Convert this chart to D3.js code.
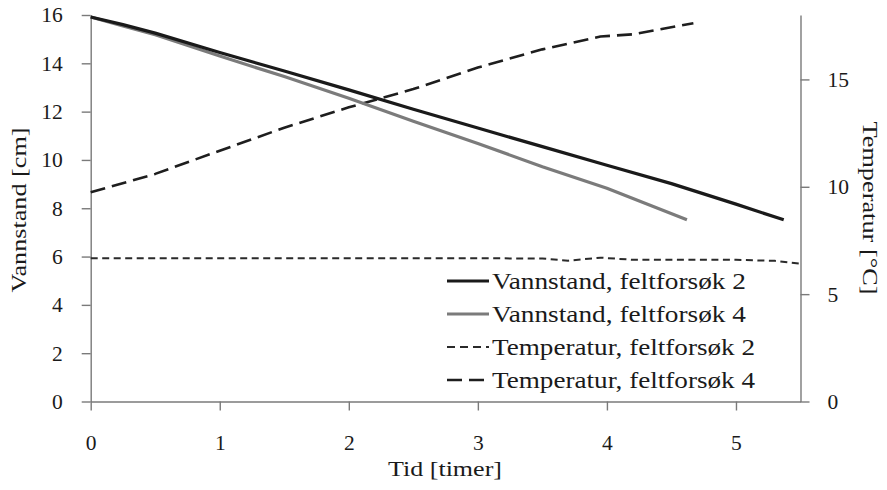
<!DOCTYPE html>
<html><head><meta charset="utf-8">
<script src="https://cdn.jsdelivr.net/npm/d3@7"></script>
</head>
<body style="margin:0"><svg id="c" width="887" height="490" font-family="Liberation Serif, Times New Roman, serif"></svg>
<script>
// ---- data ----
const vann2T = [0, 0.25, 0.5, 1, 1.5, 2, 2.5, 3, 3.5, 4, 4.5, 5, 5.37];
const vann2V = [15.92, 15.6, 15.25, 14.45, 13.68, 12.9, 12.1, 11.32, 10.55, 9.78, 9.02, 8.17, 7.52];
const vann4T = [0, 0.25, 0.5, 1, 1.5, 2, 2.5, 3, 3.5, 4, 4.3, 4.62];
const vann4V = [15.92, 15.55, 15.18, 14.3, 13.45, 12.55, 11.6, 10.68, 9.72, 8.83, 8.2, 7.52];
const temp2T = [0, 1, 2, 3, 3.5, 3.7, 3.95, 4.2, 4.6, 5.0, 5.3, 5.5];
const temp2V = [6.67, 6.67, 6.67, 6.67, 6.66, 6.56, 6.7, 6.6, 6.6, 6.6, 6.55, 6.42];
const temp4T = [0, 0.5, 1, 1.5, 2, 2.5, 3, 3.5, 3.95, 4.2, 4.67];
const temp4V = [9.74, 10.6, 11.68, 12.75, 13.7, 14.55, 15.55, 16.4, 17.0, 17.1, 17.62];
const xTicks = [0, 1, 2, 3, 4, 5];
const yLeftTicks = [0, 2, 4, 6, 8, 10, 12, 14, 16];
const yRightTicks = [0, 5, 10, 15];
const legendLabels = ["Vannstand, feltforsøk 2", "Vannstand, feltforsøk 4", "Temperatur, feltforsøk 2", "Temperatur, feltforsøk 4"];

const FONT = "Liberation Serif, Times New Roman, serif";
const svg = d3.select("#c");
const L = 90.7, R = 800.5, T = 15, B = 401.5;
const x = d3.scaleLinear().domain([0, 5.5]).range([L, R]);
const yL = d3.scaleLinear().domain([0, 16]).range([B, T]);
const yR = d3.scaleLinear().domain([0, 18]).range([B, T]);

const axisCol = "#7a7a7a";
function styleAxis(g){
  g.attr("font-family", FONT).attr("font-size", 21.5);
  g.select(".domain").attr("stroke", axisCol).attr("stroke-width", 1.4);
  g.selectAll(".tick line").attr("stroke", axisCol).attr("stroke-width", 1.4);
  g.selectAll(".tick text").attr("fill", "#1a1a1a").attr("font-family", FONT)
    .style("font-family", '"Liberation Serif", serif');
}
svg.append("g").attr("transform", `translate(0,${B})`)
  .call(d3.axisBottom(x).tickValues(xTicks).tickFormat(d3.format("d")).tickSize(9).tickSizeOuter(0).tickPadding(24))
  .call(styleAxis);
svg.append("g").attr("transform", `translate(${L},0)`)
  .call(d3.axisLeft(yL).tickValues(yLeftTicks).tickFormat(d3.format("d")).tickSize(9).tickSizeOuter(0).tickPadding(19))
  .call(styleAxis);
svg.append("g").attr("transform", `translate(${R},0)`)
  .call(d3.axisRight(yR).tickValues(yRightTicks).tickFormat(d3.format("d")).tickSize(9).tickSizeOuter(0).tickPadding(18))
  .call(styleAxis);

function draw(ts, vs, ys, color, width, dash){
  const pts = ts.map((t,i)=>[t, vs[i]]);
  svg.append("path").datum(pts)
    .attr("fill","none").attr("stroke",color).attr("stroke-width",width)
    .attr("stroke-dasharray", dash || null)
    .attr("stroke-linejoin","round")
    .attr("d", d3.line().x(d=>x(d[0])).y(d=>ys(d[1])));
}
draw(temp2T, temp2V, yR, "#2a2a2a", 2, "7,4.5");
draw(temp4T, temp4V, yR, "#1e1e1e", 2.6, "15,7");
draw(vann4T, vann4V, yL, "#7b7b7b", 3.2);
draw(vann2T, vann2V, yL, "#1a1a1a", 3.2);

function txt(sel, size){
  return sel.attr("font-family", FONT).attr("font-size", size)
    .style("font-family", '"Liberation Serif", serif').attr("fill", "#1a1a1a");
}

// legend
const legStyles = [
  {c:"#1a1a1a", w:3, d:null},
  {c:"#7b7b7b", w:3, d:null},
  {c:"#2a2a2a", w:2, d:"8,5"},
  {c:"#1e1e1e", w:2.6, d:"15,7"}
];
const legW = [254, 254, 263, 263];
legendLabels.forEach((lab,i)=>{
  const yy = 281 + i*33;
  svg.append("line").attr("x1",447).attr("x2",489).attr("y1",yy).attr("y2",yy)
    .attr("stroke",legStyles[i].c).attr("stroke-width",legStyles[i].w)
    .attr("stroke-dasharray",legStyles[i].d);
  txt(svg.append("text"), 23).attr("x",492).attr("y",yy+7.5)
    .attr("textLength",legW[i]).attr("lengthAdjust","spacingAndGlyphs").text(lab);
});

// titles
txt(svg.append("text"), 22).attr("x",445).attr("y",476).attr("text-anchor","middle")
  .attr("textLength",114).attr("lengthAdjust","spacingAndGlyphs").text("Tid [timer]");
txt(svg.append("text"), 22).attr("transform","translate(26,210) rotate(-90)").attr("text-anchor","middle")
  .attr("textLength",165).attr("lengthAdjust","spacingAndGlyphs").text("Vannstand [cm]");
txt(svg.append("text"), 22).attr("transform","translate(863,208) rotate(90)").attr("text-anchor","middle")
  .attr("textLength",173).attr("lengthAdjust","spacingAndGlyphs").text("Temperatur [°C]");
</script></body></html>
